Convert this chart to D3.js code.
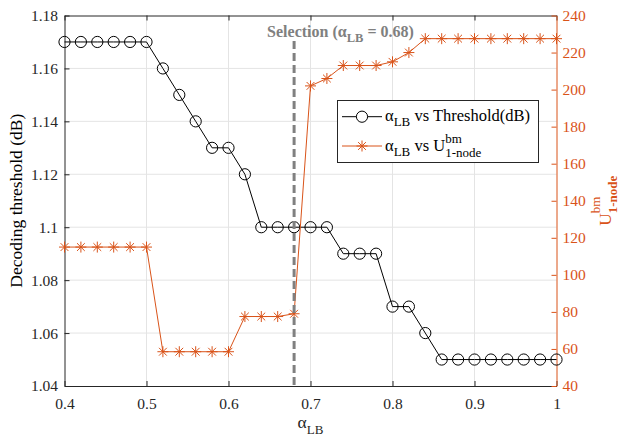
<!DOCTYPE html>
<html>
<head>
<meta charset="utf-8">
<script src="https://cdn.jsdelivr.net/npm/d3@7"></script>
<style>
  body { margin: 0; background: #fff; }
  svg { display: block; }
  svg text { font-family: "Liberation Serif", "Times New Roman", serif; }
</style>
</head>
<body>
<svg id="chart" width="621" height="442"></svg>
<script>
// alpha_LB sweep and the two measured responses
const alpha = [0.40, 0.42, 0.44, 0.46, 0.48, 0.50, 0.52, 0.54, 0.56, 0.58, 0.60,
               0.62, 0.64, 0.66, 0.68, 0.70, 0.72, 0.74, 0.76, 0.78, 0.80, 0.82,
               0.84, 0.86, 0.88, 0.90, 0.92, 0.94, 0.96, 0.98, 1.00];
const threshold = [1.17, 1.17, 1.17, 1.17, 1.17, 1.17, 1.16, 1.15, 1.14, 1.13, 1.13,
                   1.12, 1.10, 1.10, 1.10, 1.10, 1.10, 1.09, 1.09, 1.09, 1.07, 1.07,
                   1.06, 1.05, 1.05, 1.05, 1.05, 1.05, 1.05, 1.05, 1.05];
const uNode = [115, 115, 115, 115, 115, 115, 58.5, 58.5, 58.5, 58.5, 58.5,
               77.5, 77.5, 77.5, 79, 202, 206, 213, 213, 213, 215, 220,
               227.5, 227.5, 227.5, 227.5, 227.5, 227.5, 227.5, 227.5, 227.5];

const xTicks = [0.4, 0.5, 0.6, 0.7, 0.8, 0.9, 1.0];
const xTickLabels = ["0.4", "0.5", "0.6", "0.7", "0.8", "0.9", "1"];
const leftTicks = [1.04, 1.06, 1.08, 1.10, 1.12, 1.14, 1.16, 1.18];
const leftTickLabels = ["1.04", "1.06", "1.08", "1.1", "1.12", "1.14", "1.16", "1.18"];
const rightTicks = [40, 60, 80, 100, 120, 140, 160, 180, 200, 220, 240];
const rightTickLabels = ["40", "60", "80", "100", "120", "140", "160", "180", "200", "220", "240"];
const selectionAlpha = 0.68;

const ORANGE = "#D95319";
const AXIS = "#262626";
const GRID = "#e4e4e4";
const SEL = "#808080";

const box = { left: 64.5, right: 556.5, top: 15.5, bottom: 386 };

const svg = d3.select("#chart");
const x = d3.scaleLinear().domain([0.4, 1.0]).range([box.left, box.right]);
const yL = d3.scaleLinear().domain([1.04, 1.18]).range([box.bottom, box.top]);
const yR = d3.scaleLinear().domain([40, 240]).range([box.bottom, box.top]);

// Lay out a run of text pieces (with sub/superscripts) left to right.
// Each piece: {t, size, weight, dy}; a piece with `stack` holds pieces sharing one x.
function rich(parent, pieces, opts) {
  const g = parent.append("g");
  let cx = 0;
  const put = (p, at) => {
    const t = g.append("text")
      .attr("x", at).attr("y", p.dy || 0)
      .attr("font-size", p.size)
      .attr("font-weight", p.weight || opts.weight || "normal")
      .attr("fill", opts.fill)
      .style("white-space", "pre")
      .text(p.t);
    return t.node().getComputedTextLength();
  };
  pieces.forEach(p => {
    if (p.stack) {
      let w = 0;
      p.stack.forEach(s => { w = Math.max(w, put(s, cx)); });
      cx += w;
    } else {
      cx += put(p, cx);
    }
  });
  return { g, width: cx };
}

// grid
const grid = svg.append("g");
grid.selectAll("line.gx").data(xTicks.slice(1, -1)).enter().append("line")
  .attr("x1", d => x(d)).attr("x2", d => x(d))
  .attr("y1", box.top).attr("y2", box.bottom)
  .attr("stroke", GRID).attr("stroke-width", 1);
grid.selectAll("line.gy").data(leftTicks.slice(1, -1)).enter().append("line")
  .attr("x1", box.left).attr("x2", box.right)
  .attr("y1", d => yL(d)).attr("y2", d => yL(d))
  .attr("stroke", GRID).attr("stroke-width", 1);

// axes
function styleAxis(g, color, size) {
  g.attr("font-family", null);
  g.selectAll("path.domain").attr("stroke", color).attr("stroke-width", 1);
  g.selectAll(".tick line").attr("stroke", color).attr("stroke-width", 1);
  g.selectAll(".tick text").attr("fill", color).attr("font-size", size);
}

const xAxis = svg.append("g").attr("transform", `translate(0,${box.bottom})`)
  .call(d3.axisBottom(x).tickValues(xTicks)
    .tickFormat((d, i) => xTickLabels[i])
    .tickSizeInner(-5).tickSizeOuter(0).tickPadding(11.5));
styleAxis(xAxis, AXIS, 15.5);

const topAxis = svg.append("g").attr("transform", `translate(0,${box.top})`)
  .call(d3.axisTop(x).tickValues(xTicks).tickFormat("")
    .tickSizeInner(-5).tickSizeOuter(0));
styleAxis(topAxis, AXIS, 15.5);

const leftAxis = svg.append("g").attr("transform", `translate(${box.left},0)`)
  .call(d3.axisLeft(yL).tickValues(leftTicks)
    .tickFormat((d, i) => leftTickLabels[i])
    .tickSizeInner(-5).tickSizeOuter(0).tickPadding(6.5));
styleAxis(leftAxis, AXIS, 15.5);

const rightAxis = svg.append("g").attr("transform", `translate(${box.right},0)`)
  .call(d3.axisRight(yR).tickValues(rightTicks)
    .tickFormat((d, i) => rightTickLabels[i])
    .tickSizeInner(-5).tickSizeOuter(0).tickPadding(6));
styleAxis(rightAxis, ORANGE, 15.5);

// threshold series: black line with open circles
const rows = alpha.map((a, i) => ({ a, th: threshold[i], u: uNode[i] }));

svg.append("path").datum(rows)
  .attr("fill", "none").attr("stroke", "#000").attr("stroke-width", 1)
  .attr("d", d3.line().x(d => x(d.a)).y(d => yL(d.th)));
svg.append("g").selectAll("circle").data(rows).enter().append("circle")
  .attr("cx", d => x(d.a)).attr("cy", d => yL(d.th)).attr("r", 5.6)
  .attr("fill", "none").attr("stroke", "#000").attr("stroke-width", 1);

// U^bm_1-node series: orange line with asterisks
function asterisk(g, cx, cy, r) {
  const k = r * Math.SQRT1_2;
  const segs = [[-r, 0, r, 0], [0, -r, 0, r], [-k, -k, k, k], [-k, k, k, -k]];
  segs.forEach(s => g.append("line")
    .attr("x1", cx + s[0]).attr("y1", cy + s[1])
    .attr("x2", cx + s[2]).attr("y2", cy + s[3])
    .attr("stroke", ORANGE).attr("stroke-width", 1));
}
svg.append("path").datum(rows)
  .attr("fill", "none").attr("stroke", ORANGE).attr("stroke-width", 1)
  .attr("d", d3.line().x(d => x(d.a)).y(d => yR(d.u)));
const stars = svg.append("g");
rows.forEach(d => asterisk(stars, x(d.a), yR(d.u), 5.5));

// selected alpha_LB marker
svg.append("line")
  .attr("x1", x(selectionAlpha)).attr("x2", x(selectionAlpha))
  .attr("y1", 41).attr("y2", box.bottom)
  .attr("stroke", SEL).attr("stroke-width", 3)
  .attr("stroke-dasharray", "8,4");

const sel = rich(svg, [
  { t: "Selection (", size: 16 },
  { t: "α", size: 16 },
  { t: "LB", size: 12.5, dy: 5 },
  { t: " = 0.68)", size: 16 }
], { fill: SEL, weight: "bold" });
sel.g.attr("transform", `translate(${x(selectionAlpha) - 27},36.5)`);

// legend
const lg = svg.append("g");
lg.append("rect").attr("x", 337.5).attr("y", 100.5).attr("width", 201).attr("height", 62)
  .attr("fill", "#fff").attr("stroke", AXIS).attr("stroke-width", 1);
const row1 = 116.7, row2 = 146;
lg.append("line").attr("x1", 342).attr("x2", 382).attr("y1", row1).attr("y2", row1)
  .attr("stroke", "#000").attr("stroke-width", 1);
lg.append("circle").attr("cx", 362).attr("cy", row1).attr("r", 5.6)
  .attr("fill", "#fff").attr("stroke", "#000").attr("stroke-width", 1);
lg.append("line").attr("x1", 342).attr("x2", 382).attr("y1", row2).attr("y2", row2)
  .attr("stroke", ORANGE).attr("stroke-width", 1);
asterisk(lg, 362, row2, 5.5);

const l1 = rich(lg, [
  { t: "α", size: 16.5 },
  { t: "LB", size: 13, dy: 5 },
  { t: " vs Threshold(dB)", size: 16.5 }
], { fill: "#000" });
l1.g.attr("transform", `translate(385,${row1 + 4})`);

const l2 = rich(lg, [
  { t: "α", size: 16.5 },
  { t: "LB", size: 13, dy: 5 },
  { t: " vs U", size: 16.5 },
  { stack: [{ t: "bm", size: 13, dy: -8 }, { t: "1-node", size: 13, dy: 6 }] }
], { fill: "#000" });
l2.g.attr("transform", `translate(385,${row2 + 4.5})`);

// axis titles
const midY = (box.top + box.bottom) / 2;
const xt = rich(svg, [
  { t: "α", size: 17.5 },
  { t: "LB", size: 13, dy: 6 }
], { fill: AXIS });
xt.g.attr("transform", `translate(${(box.left + box.right) / 2 - xt.width / 2},428)`);

const ytL = rich(svg, [{ t: "Decoding threshold (dB)", size: 17.5 }], { fill: "#000" });
ytL.g.attr("transform", `translate(21.5,${midY + ytL.width / 2}) rotate(-90)`);

const ytR = rich(svg, [
  { t: "U", size: 17.5 },
  { stack: [{ t: "bm", size: 13, dy: -11 }, { t: "1-node", size: 13, dy: 6, weight: "bold" }] }
], { fill: ORANGE });
ytR.g.attr("transform", `translate(611,${midY + ytR.width / 2}) rotate(-90)`);
</script>
</body>
</html>
